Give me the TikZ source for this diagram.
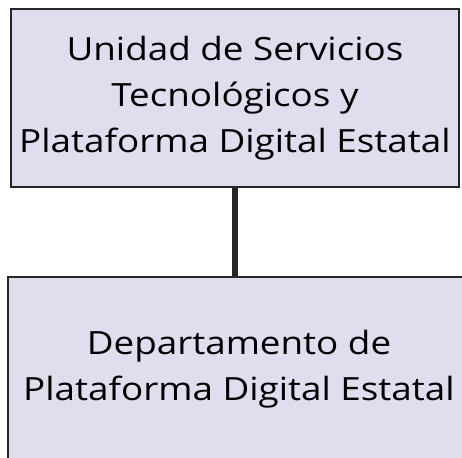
\documentclass[tikz,border=0pt]{standalone}
\usepackage{fontspec}
\setmainfont{Open Sans}[FakeStretch=1.15]
\usetikzlibrary{positioning}
\definecolor{lavanda}{RGB}{226,220,239}
\newcommand{\boxfont}{\fontsize{32}{46}\selectfont}

\begin{document}
\begin{tikzpicture}[x=1pt,y=-1pt]
  \tikzset{unidad/.style={draw=black!85,line width=2pt,fill=lavanda,align=center,font=\boxfont,inner sep=0pt}}
  \useasboundingbox (0,0) rectangle (462,457);

  \node[unidad,minimum width=448pt,minimum height=178pt] (ustde) at (235,98)
    {Unidad de Servicios\\Tecnológicos y\\Plataforma Digital Estatal};
  \node[unidad,minimum width=462pt,minimum height=184pt] (depto) at (239,369)
    {Departamento de\\Plataforma Digital Estatal};

  \draw[line width=6pt,black!85] (ustde.south) -- (ustde.south |- depto.north);

\end{tikzpicture}
\end{document}
